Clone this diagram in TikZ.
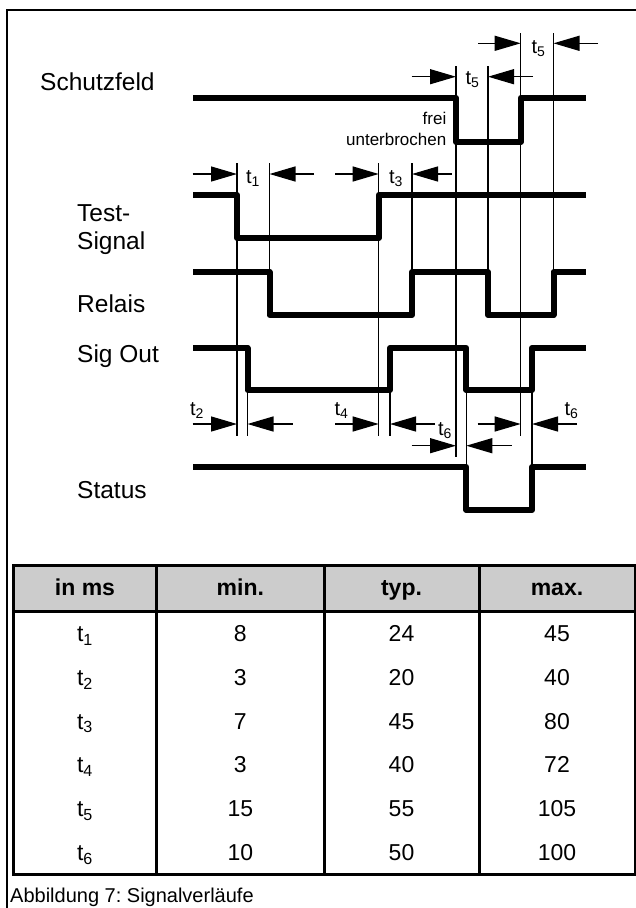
\documentclass[tikz,border=0pt]{standalone}
\usepackage{fontspec}
\setmainfont{Liberation Sans}
\usetikzlibrary{arrows.meta}
\newcommand\tsb[1]{t\textsubscript{#1}}
\frenchspacing
\begin{document}
\begin{tikzpicture}[x=1pt,y=-1pt,
  sig/.style={line width=6pt, line join=round},
  vline/.style={line width=1.2pt},
  dimarrow/.style={line width=1.3pt, -{Triangle[length=26pt,width=15pt]}},
  lbl/.style={anchor=base west, inner sep=0pt, font=\fontsize{24.5}{28}\selectfont},
  tlbl/.style={anchor=base, inner sep=0pt, font=\fontsize{20}{24}\selectfont},
  small/.style={anchor=base east, inner sep=0pt, font=\fontsize{17}{20}\selectfont},
  tabtxt/.style={anchor=base, inner sep=0pt, font=\fontsize{23}{27}\selectfont},
  tabhead/.style={anchor=base, inner sep=0pt, font=\fontsize{23}{27}\selectfont\bfseries},
  framel/.style={line width=2.5pt},
  gridl/.style={line width=3pt}
]
\useasboundingbox (0,0) rectangle (635,908);
% frame
\draw[framel] (7,908) -- (7,10) -- (636,10);

% signal labels
\node[lbl] (lschutz) at (40,90) {Schutzfeld};
\node[lbl] (ltest) at (77,221) {Test-};
\node[lbl] (lsignal) at (77,249) {Signal};
\node[lbl] (lrelais) at (77,312) {Relais};
\node[lbl] (lsigout) at (77,362) {Sig Out};
\node[lbl] (lstatus) at (77,498) {Status};

% thin vertical lines
\draw[vline] (237,163) -- (237,436);
\draw[vline] (269.5,163) -- (269.5,272);
\draw[vline] (247.5,348) -- (247.5,436);
\draw[vline] (378.7,163) -- (378.7,436);
\draw[vline] (412,163) -- (412,272);
\draw[vline] (390,348) -- (390,436);
\draw[vline] (456,66) -- (456,457);
\draw[vline] (488,66) -- (488,272);
\draw[vline] (466.3,348) -- (466.3,467);
\draw[vline] (520.7,33) -- (520.7,436);
\draw[vline] (553.5,33) -- (553.5,272);
\draw[vline] (532,390) -- (532,467);

% signals
\draw[sig] (193,98) -- (456,98) -- (456,142) -- (520.7,142) -- (520.7,98) -- (586,98);
\draw[sig] (193,195) -- (237,195) -- (237,238) -- (378.7,238) -- (378.7,195) -- (586,195);
\draw[sig] (193,272) -- (269.5,272) -- (269.5,315) -- (412,315) -- (412,272) -- (488,272) -- (488,315) -- (553.5,315) -- (553.5,272) -- (586,272);
\draw[sig] (193,348) -- (247.5,348) -- (247.5,390) -- (390,390) -- (390,348) -- (466.3,348) -- (466.3,390) -- (532,390) -- (532,348) -- (586,348);
\draw[sig] (193,467) -- (466.3,467) -- (466.3,510) -- (532,510) -- (532,467) -- (586,467);

% frei / unterbrochen
\node[small] (frei) at (446.5,124) {frei};
\node[small] (unterb) at (446.5,145) {unterbrochen};

% dimension arrows
% t5 upper
\draw[dimarrow] (478,43.3) -- (520.7,43.3);
\draw[dimarrow] (598,43.3) -- (553.5,43.3);
\node[tlbl] (t5a) at (538.5,53) {\tsb{5}};
% t5 lower
\draw[dimarrow] (411.7,76.7) -- (456,76.7);
\draw[dimarrow] (533,76.7) -- (488,76.7);
\node[tlbl] (t5b) at (472.5,84) {\tsb{5}};
% t1
\draw[dimarrow] (192.7,174) -- (237,174);
\draw[dimarrow] (314,174) -- (269.5,174);
\node[tlbl] (t1) at (253,183) {\tsb{1}};
% t3
\draw[dimarrow] (335,174) -- (378.7,174);
\draw[dimarrow] (451.7,174) -- (412,174);
\node[tlbl] (t3) at (396,183) {\tsb{3}};
% t2
\draw[dimarrow] (192.7,424) -- (237,424);
\draw[dimarrow] (292.7,424) -- (247.5,424);
\node[tlbl] (t2) at (197,415) {\tsb{2}};
% t4
\draw[dimarrow] (335,424) -- (378.7,424);
\draw[dimarrow] (435,424) -- (390,424);
\node[tlbl] (t4) at (341.5,415) {\tsb{4}};
% t6 middle
\draw[dimarrow] (411.7,445.7) -- (456,445.7);
\draw[dimarrow] (511.7,445.7) -- (466.3,445.7);
\node[tlbl] (t6a) at (445,435) {\tsb{6}};
% t6 right
\draw[dimarrow] (477.7,424) -- (520.7,424);
\draw[dimarrow] (577,424) -- (532,424);
\node[tlbl] (t6b) at (571.5,415) {\tsb{6}};

% table
\fill[gray!40] (13.3,565) rectangle (635,611);
\draw[gridl] (13.3,565) rectangle (635,874);
\draw[gridl] (13.3,611) -- (635,611);
\draw[gridl] (156.7,565) -- (156.7,874);
\draw[gridl] (324,565) -- (324,874);
\draw[gridl] (479,565) -- (479,874);

\node[tabhead] (h1) at (85,595.5) {in ms};
\node[tabhead] (h2) at (240.3,595.5) {min.};
\node[tabhead] (h3) at (401.5,595.5) {typ.};
\node[tabhead] (h4) at (557,595.5) {max.};

\foreach \i/\mn/\ty/\mx [count=\r from 0] in {1/8/24/45, 2/3/20/40, 3/7/45/80, 4/3/40/72, 5/15/55/105, 6/10/50/100}{
  \pgfmathsetmacro\yy{641.5+43.8*\r}
  \node[tabtxt] (r\i a) at (85,\yy) {\tsb{\i}};
  \node[tabtxt] (r\i b) at (240.3,\yy) {\mn};
  \node[tabtxt] (r\i c) at (401.5,\yy) {\ty};
  \node[tabtxt] (r\i d) at (557,\yy) {\mx};
}

\node[anchor=base west, inner sep=0pt, font=\fontsize{20}{24}\selectfont] (caption) at (10,902) {Abbildung 7: Signalverläufe};
\end{tikzpicture}
\end{document}
